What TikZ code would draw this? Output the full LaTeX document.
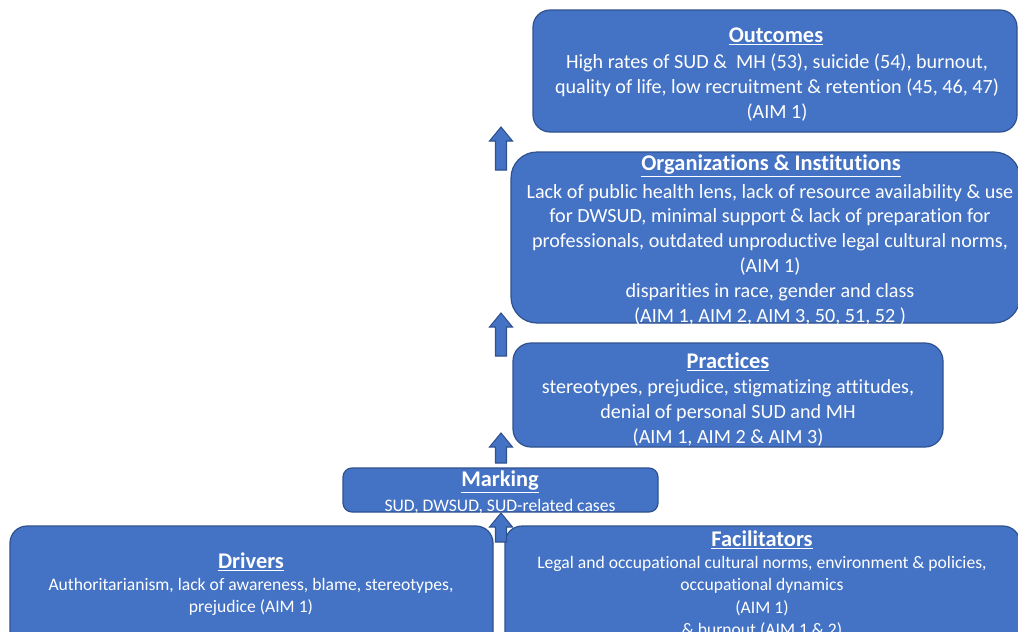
\documentclass[tikz,border=0pt]{standalone}
\usepackage{fontspec}
\setmainfont[Ligatures={NoCommon,NoRare,NoContextual}]{Carlito}
\definecolor{boxfill}{HTML}{4472C4}
\definecolor{boxline}{HTML}{2F528F}
\tikzset{
  x=0.75pt, y=-0.75pt,
  box/.style={fill=boxfill, draw=boxline, line width=0.9pt},
  ttl/.style={text=white, inner sep=0pt, font=\fontsize{16.8}{19}\selectfont\bfseries},
  bodyL/.style={text=white, inner sep=0pt, align=center, font=\fontsize{15.1}{18.6}\selectfont},
  bodyS/.style={text=white, inner sep=0pt, align=center, font=\fontsize{13.2}{16.9}\selectfont},
  blockarrow/.style={fill=boxfill, draw=boxline, line width=0.8pt, line join=miter},
}
\newcommand{\uarrow}[3]{% center x, tip y, bottom y
  \draw[blockarrow] (#1-5.5,#3) -- (#1-5.5,#2+14) -- (#1-11.5,#2+14) -- (#1,#2) -- (#1+11.5,#2+14) -- (#1+5.5,#2+14) -- (#1+5.5,#3) -- cycle;}
\begin{document}
\begin{tikzpicture}
\useasboundingbox (0,0) rectangle (1018,632);
\clip (0,0) rectangle (1018,632);
% boxes
\draw[box, rounded corners=17pt*0.75] (533,10) rectangle (1017,132);
\node[inner sep=0pt] (outcomes) at (775,71) {};
\draw[box, rounded corners=26pt*0.75] (511,152) rectangle (1020,323);
\node[inner sep=0pt] (orgs) at (765,237) {};
\draw[box, rounded corners=18pt*0.75] (513,343) rectangle (943,447);
\node[inner sep=0pt] (practices) at (728,395) {};
\draw[box, rounded corners=9pt*0.75] (343,468) rectangle (658,512);
\node[inner sep=0pt] (marking) at (500,490) {};
\draw[box, rounded corners=17pt*0.75] (10,526) rectangle (493,650);
\node[inner sep=0pt] (drivers) at (251,588) {};
\draw[box, rounded corners=17pt*0.75] (505,526) rectangle (1020,650);
\node[inner sep=0pt] (facil) at (762,588) {};
% texts
\node[ttl] (outT) at (776,36.5) {\underline{Outcomes}};
\node[bodyL] (outB) at (777,87.5) {High rates of SUD \&\ \ MH (53), suicide (54), burnout,\\quality of life, low recruitment \& retention (45, 46, 47)\\(AIM 1)};
\node[ttl] (orgT) at (771,165.5) {\underline{Organizations \& Institutions}};
\node[bodyL] (orgB) at (770,254.5) {Lack of public health lens, lack of resource availability \& use\\for DWSUD, minimal support \& lack of preparation for\\professionals, outdated unproductive legal cultural norms,\\(AIM 1)\\disparities in race, gender and class\\(AIM 1, AIM 2, AIM 3, 50, 51, 52 )};
\node[ttl] (pracT) at (728,362) {\underline{Practices}};
\node[bodyL] (pracB) at (728,413) {stereotypes, prejudice, stigmatizing attitudes,\\denial of personal SUD and MH\\(AIM 1, AIM 2 \& AIM 3)};
\node[ttl] (markT) at (500,482) {\underline{Marking}};
\node[bodyS] (markB) at (500,507) {SUD, DWSUD, SUD-related cases};
\node[ttl] (drvT) at (251,562) {\underline{Drivers}};
\node[bodyS] (drvB) at (251,597) {Authoritarianism, lack of awareness, blame, stereotypes,\\prejudice (AIM 1)};
\node[ttl] (facT) at (762,540) {\underline{Facilitators}};
\node[bodyS] (facB) at (762,597) {Legal and occupational cultural norms, environment \& policies,\\occupational dynamics\\(AIM 1)\\\& burnout (AIM 1 \& 2)};
% block arrows
\uarrow{501}{127}{170}
\uarrow{501}{313}{356}
\uarrow{501}{433}{463}
\uarrow{501}{513}{542}
\end{tikzpicture}
\end{document}
